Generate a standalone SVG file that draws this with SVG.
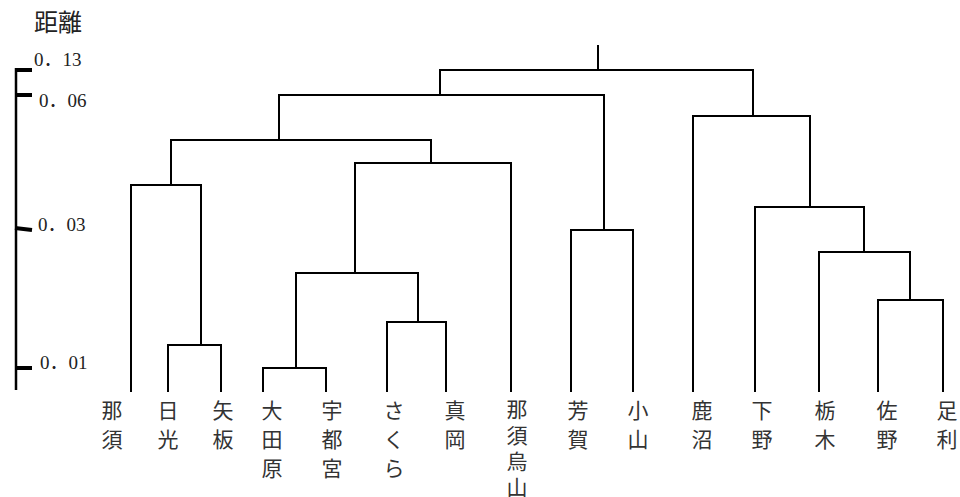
<svg xmlns="http://www.w3.org/2000/svg" width="960" height="497" viewBox="0 0 960 497">
<style>
.ln{fill:none;stroke:#000;stroke-width:2;stroke-linejoin:miter;stroke-linecap:square}
.ax{fill:none;stroke:#000;stroke-width:2.5}
.tk{fill:none;stroke:#000;stroke-width:4}
.num{font-family:"Liberation Serif","Noto Sans CJK JP",serif;font-size:19px;fill:#222}
.lab{font-family:"Noto Sans CJK JP",sans-serif;font-size:21px;fill:#333;text-anchor:middle}
.ttl{font-family:"Noto Sans CJK JP",sans-serif;font-size:24px;fill:#222}
</style>
<rect width="960" height="497" fill="#fff"/>
<g id="axis">
<text class="ttl" x="34" y="31">距離</text>
<line class="ax" x1="16" y1="68" x2="16" y2="390"/>
<line class="tk" x1="15" y1="70" x2="32" y2="70"/>
<line class="tk" x1="15" y1="95" x2="32" y2="95"/>
<line class="tk" x1="15" y1="228" x2="32" y2="230"/>
<line class="tk" x1="15" y1="368" x2="32" y2="368"/>
<text class="num" x="34" y="66">0．13</text>
<text class="num" x="39" y="107">0．06</text>
<text class="num" x="38" y="231">0．03</text>
<text class="num" x="40" y="369">0．01</text>
</g>
<g id="connectors">
<path class="ln" d="M598 46V70M440 95V70H753V116"/>
<path class="ln" d="M279 140V95H604V230"/>
<path class="ln" d="M171 185V140H431V163"/>
<path class="ln" d="M131 391V185H201V345"/>
<path class="ln" d="M168 391V345H221V391"/>
<path class="ln" d="M355 273V163H511V391"/>
<path class="ln" d="M296 368V273H418V322"/>
<path class="ln" d="M263 391V368H326V391"/>
<path class="ln" d="M387 391V322H446V391"/>
<path class="ln" d="M571 391V230H633V391"/>
<path class="ln" d="M693 391V116H810V207"/>
<path class="ln" d="M755 391V207H864V252"/>
<path class="ln" d="M819 391V252H910V300"/>
<path class="ln" d="M878 391V300H943V391"/>
</g>
<g id="n-nasu"><text class="lab" x="112" y="418">那<tspan x="112" dy="29">須</tspan></text></g>
<g id="n-nikko"><text class="lab" x="168" y="418">日<tspan x="168" dy="29">光</tspan></text></g>
<g id="n-yaita"><text class="lab" x="223" y="418">矢<tspan x="223" dy="29">板</tspan></text></g>
<g id="n-otawara"><text class="lab" x="272" y="418">大<tspan x="272" dy="29">田</tspan><tspan x="272" dy="29">原</tspan></text></g>
<g id="n-utsunomiya"><text class="lab" x="332" y="418">宇<tspan x="332" dy="29">都</tspan><tspan x="332" dy="29">宮</tspan></text></g>
<g id="n-sakura"><text class="lab" x="394" y="418">さ<tspan x="394" dy="29">く</tspan><tspan x="394" dy="29">ら</tspan></text></g>
<g id="n-moka"><text class="lab" x="455" y="418">真<tspan x="455" dy="29">岡</tspan></text></g>
<g id="n-nasukarasuyama"><text class="lab" x="517" y="417">那<tspan x="517" dy="26">須</tspan><tspan x="517" dy="26">烏</tspan><tspan x="517" dy="26">山</tspan></text></g>
<g id="n-haga"><text class="lab" x="578" y="418">芳<tspan x="578" dy="29">賀</tspan></text></g>
<g id="n-oyama"><text class="lab" x="638" y="418">小<tspan x="638" dy="29">山</tspan></text></g>
<g id="n-kanuma"><text class="lab" x="702" y="418">鹿<tspan x="702" dy="29">沼</tspan></text></g>
<g id="n-shimotsuke"><text class="lab" x="762" y="418">下<tspan x="762" dy="29">野</tspan></text></g>
<g id="n-tochigi"><text class="lab" x="825" y="418">栃<tspan x="825" dy="29">木</tspan></text></g>
<g id="n-sano"><text class="lab" x="887" y="418">佐<tspan x="887" dy="29">野</tspan></text></g>
<g id="n-ashikaga"><text class="lab" x="947" y="418">足<tspan x="947" dy="29">利</tspan></text></g>
</svg>
